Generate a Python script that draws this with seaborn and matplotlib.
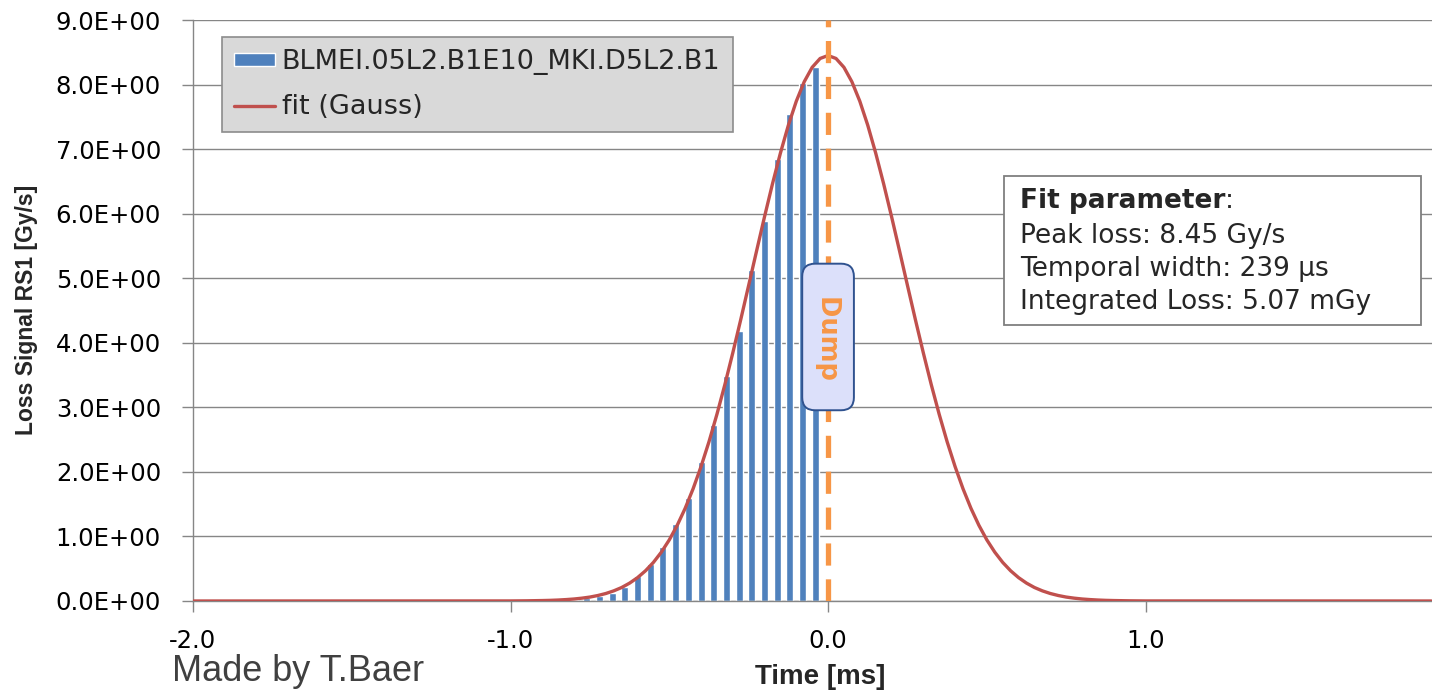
import seaborn as sns
import matplotlib.pyplot as plt
import matplotlib.patches as mpatches
from matplotlib.text import Annotation
import pandas as pd

# Data
bar_time = [-0.88, -0.84, -0.80, -0.76, -0.72, -0.68, -0.64, -0.60, -0.56, -0.52,
            -0.48, -0.44, -0.40, -0.36, -0.32, -0.28, -0.24, -0.20, -0.16, -0.12,
            -0.08, -0.04]
bar_signal = [0.005, 0.01, 0.02, 0.04, 0.07, 0.13, 0.21, 0.38, 0.57, 0.84,
              1.20, 1.60, 2.15, 2.72, 3.49, 4.18, 5.13, 5.88, 6.85, 7.55,
              8.03, 8.27]

# fitted Gauss curve, read at 25 us steps
fit_time = [-2.0, -1.0, -0.95, -0.9, -0.875, -0.85, -0.825, -0.8, -0.775, -0.75,
            -0.725, -0.7, -0.675, -0.65, -0.625, -0.6, -0.575, -0.55, -0.525, -0.5,
            -0.475, -0.45, -0.425, -0.4, -0.375, -0.35, -0.325, -0.3, -0.275, -0.25,
            -0.225, -0.2, -0.175, -0.15, -0.125, -0.1, -0.075, -0.05, -0.025, 0.0,
            0.025, 0.05, 0.075, 0.1, 0.125, 0.15, 0.175, 0.2, 0.225, 0.25,
            0.275, 0.3, 0.325, 0.35, 0.375, 0.4, 0.425, 0.45, 0.475, 0.5,
            0.525, 0.55, 0.575, 0.6, 0.625, 0.65, 0.675, 0.7, 0.725, 0.75,
            0.775, 0.8, 0.825, 0.85, 0.875, 0.9, 0.95, 1.0, 1.9]
fit_signal = [0.0, 0.001, 0.003, 0.007, 0.010, 0.015, 0.022, 0.031, 0.044, 0.061,
              0.085, 0.116, 0.157, 0.209, 0.277, 0.362, 0.468, 0.598, 0.757, 0.947,
              1.173, 1.436, 1.739, 2.083, 2.467, 2.892, 3.352, 3.844, 4.359, 4.890,
              5.425, 5.954, 6.463, 6.939, 7.370, 7.742, 8.044, 8.267, 8.404, 8.450,
              8.404, 8.267, 8.044, 7.742, 7.370, 6.939, 6.463, 5.954, 5.425, 4.890,
              4.359, 3.844, 3.352, 2.892, 2.467, 2.083, 1.739, 1.436, 1.173, 0.947,
              0.757, 0.598, 0.468, 0.362, 0.277, 0.209, 0.157, 0.116, 0.085, 0.061,
              0.044, 0.031, 0.022, 0.015, 0.010, 0.007, 0.003, 0.001, 0.0]

y_ticks = [0, 1, 2, 3, 4, 5, 6, 7, 8, 9]
x_ticks = [-2.0, -1.0, 0.0, 1.0]

bar_label = 'BLMEI.05L2.B1E10_MKI.D5L2.B1'
fit_label = 'fit (Gauss)'
fit_lines = ['Peak loss: 8.45 Gy/s', 'Temporal width: 239 \u00b5s', 'Integrated Loss: 5.07 mGy']

bars = pd.DataFrame({'Time': bar_time, 'Signal': bar_signal})
fit = pd.DataFrame({'Time': fit_time, 'Signal': fit_signal})

sns.set_style('white')
plt.rcParams['font.family'] = ['DejaVu Sans']

W, H = 1432, 690
fig = plt.figure(figsize=(W / 100, H / 100), dpi=100)
ax = fig.add_axes([193 / W, 1 - 601 / H, (W - 193) / W, 581 / H])

grey = '#868686'
sns.barplot(data=bars, x='Time', y='Signal', native_scale=True, orient='x',
            color='#4F81BD', saturation=1, width=0.55, errorbar=None,
            label=bar_label, ax=ax, zorder=2)
sns.lineplot(data=fit, x='Time', y='Signal', color='#C0504D', lw=2.4,
             label=fit_label, ax=ax, zorder=3)
ax.axvline(0, color='#F79646', lw=3.8, dashes=(4.2, 2.6), zorder=4)

ax.set_xlim(-2.0, 1.902)
ax.set_ylim(0, 9)
ax.set_xticks(x_ticks)
ax.set_xticklabels([f'{t:.1f}' for t in x_ticks])
ax.set_yticks(y_ticks)
ax.set_yticklabels([f'{t:.1f}E+00' for t in y_ticks])
ax.tick_params(axis='both', labelsize=17.5, colors=grey, labelcolor='black',
               length=8, width=1, direction='out')
ax.tick_params(axis='y', pad=15, left=True)
ax.tick_params(axis='x', pad=12, bottom=True)
ax.yaxis.grid(True, color=grey, lw=1)
ax.set_axisbelow(True)
for s in ['top', 'right']:
    ax.spines[s].set_visible(False)
for s in ['left', 'bottom']:
    ax.spines[s].set_color(grey)
    ax.spines[s].set_linewidth(1)

ax.set_xlabel('Time [ms]', family='Liberation Sans', weight='bold', fontsize=20)
ax.xaxis.set_label_coords((820 - 193) / (W - 193), -(677 - 601) / 581)
ax.xaxis.label.set_va('center')
ax.set_ylabel('Loss Signal RS1 [Gy/s]', family='Liberation Sans', weight='bold', fontsize=16.5)
ax.yaxis.set_label_coords((27 - 193) / (W - 193), (601 - 310) / 581)
ax.yaxis.label.set_va('center')

# legend
h, l = ax.get_legend_handles_labels()
order = [l.index(bar_label), l.index(fit_label)]
leg = ax.legend([h[i] for i in order], [l[i] for i in order], loc='upper left',
                bbox_to_anchor=(222 / W, 1 - 37 / H), bbox_transform=fig.transFigure,
                frameon=True, fancybox=False, facecolor='#D9D9D9', edgecolor='#8C8C8C',
                framealpha=1, borderaxespad=0, fontsize=19.5, handlelength=1.5,
                handleheight=0.38, handletextpad=0.26, labelspacing=0.7, borderpad=0.45)
leg.get_frame().set_linewidth(1.2)

# Dump label
ax.text(0, 4.09, '  Dump  ', rotation=270, ha='center', va='center', fontsize=18.5,
        weight='bold', color='#F79646', zorder=6,
        bbox=dict(boxstyle='round,pad=0.5', facecolor='#DCE0FA', edgecolor='#2F528F', lw=1.4))

# fit parameter box
fig.add_artist(mpatches.Rectangle((1004 / W, 1 - 325 / H), 417 / W, 149 / H,
                                  transform=fig.transFigure, facecolor='white',
                                  edgecolor='#7F7F7F', lw=1.3))
t0 = fig.text(1020 / W, 1 - 208 / H, 'Fit parameter', weight='bold', fontsize=19, va='baseline')
fig.add_artist(Annotation(':', xy=(1, 0), xycoords=t0, va='bottom', ha='left', fontsize=19))
for i, line in enumerate(fit_lines):
    fig.text(1020 / W, 1 - (243 + 33 * i) / H, line, fontsize=19, va='baseline')

fig.text(172 / W, 1 - 681 / H, 'Made by T.Baer', family='Liberation Sans',
         fontsize=26, color='#404040', va='baseline')

fig.savefig('out.png', dpi=100)
